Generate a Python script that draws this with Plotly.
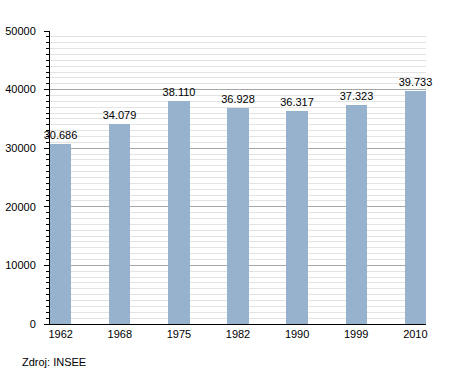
import plotly.graph_objects as go

years = ["1962", "1968", "1975", "1982", "1990", "1999", "2010"]
population = [30686, 34079, 38110, 36928, 36317, 37323, 39733]
source_note = "Zdroj: INSEE"

bar_color = "#97b2cc"

W, H = 455, 373
L, R, T, B = 50, 29, 31, 49
plot_h = H - T - B
plot_w = W - L - R

fig = go.Figure(
    go.Bar(
        x=years,
        y=population,
        width=0.36,
        marker=dict(color=bar_color, line=dict(width=0)),
        texttemplate="%{y:,}",
        textposition="outside",
        constraintext="none",
        textfont=dict(size=11, color="#000000"),
        cliponaxis=False,
    )
)

fig.update_layout(
    width=W,
    height=H,
    margin=dict(l=L, r=R, t=T, b=B, pad=0, autoexpand=False),
    paper_bgcolor="white",
    plot_bgcolor="white",
    separators=",.",
    font=dict(family="Liberation Sans, Arial, sans-serif", size=11, color="#000000"),
    showlegend=False,
    bargap=0,
    xaxis=dict(
        type="category",
        range=[-0.18, 6.18],
        showline=True,
        linecolor="#000000",
        linewidth=1,
        ticks="",
        showgrid=False,
        automargin=False,
        tickfont=dict(size=11),
        fixedrange=True,
    ),
    yaxis=dict(
        range=[0, 50000],
        dtick=10000,
        tickformat="d",
        showline=True,
        linecolor="#000000",
        linewidth=1,
        ticks="outside",
        ticklen=5,
        tickcolor="#000000",
        ticklabelstandoff=6,
        automargin=False,
        showgrid=True,
        gridcolor="#a6a6a6",
        gridwidth=1,
        zeroline=False,
        tickfont=dict(size=11),
        minor=dict(
            dtick=1000,
            ticks="outside",
            ticklen=3,
            tickcolor="#000000",
            showgrid=True,
            gridcolor="#e3e3e3",
            gridwidth=1,
        ),
    ),
    annotations=[
        dict(
            text=source_note,
            xref="paper",
            yref="paper",
            x=(20 - L) / plot_w,
            y=-38 / plot_h,
            xanchor="left",
            yanchor="middle",
            showarrow=False,
            font=dict(size=11, color="#000000"),
        )
    ],
)

fig.write_html(
    "out.html",
    config={"displayModeBar": False},
    post_script="document.body.style.margin='0';document.body.style.overflow='hidden';",
)
